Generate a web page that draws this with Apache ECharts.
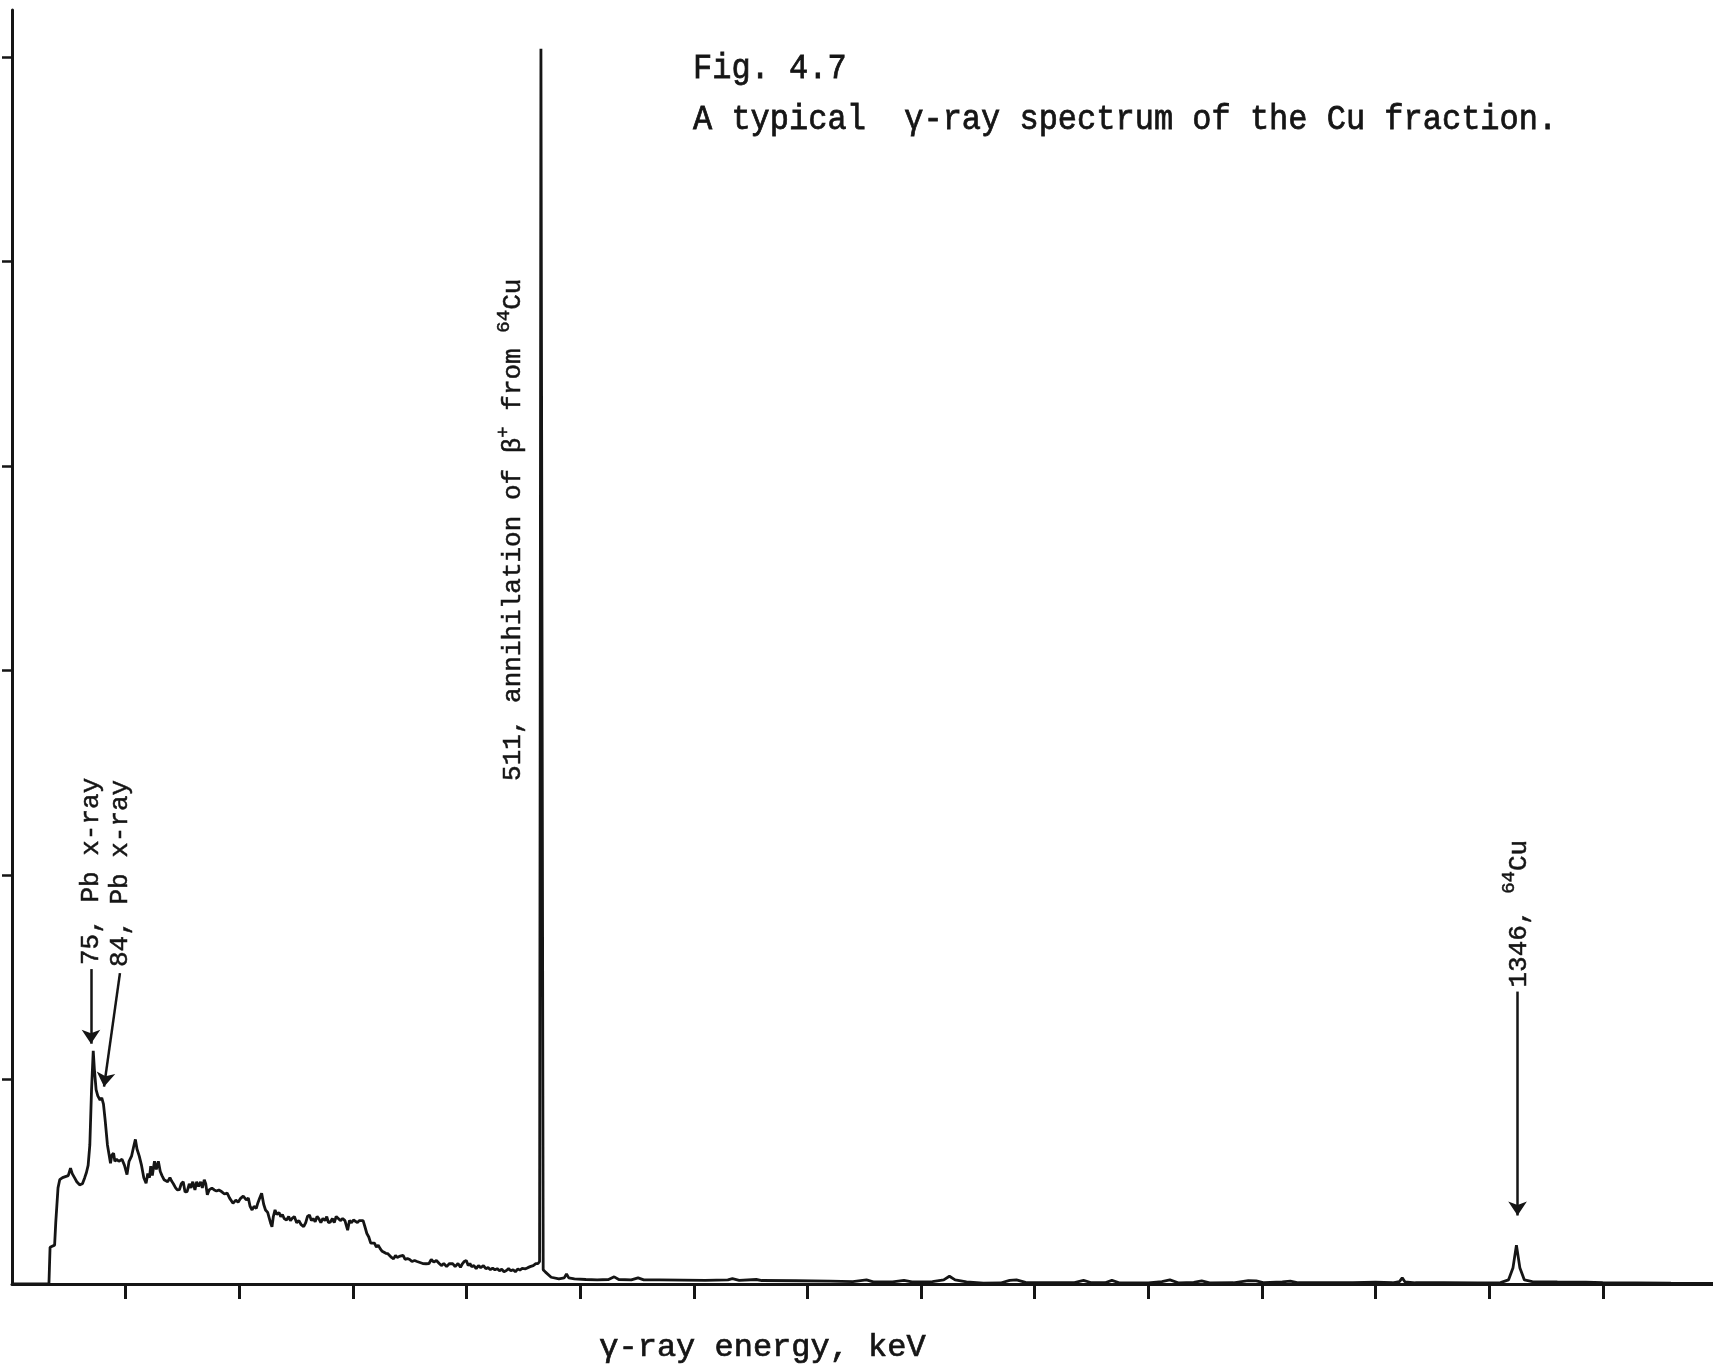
<!DOCTYPE html>
<html>
<head>
<meta charset="utf-8">
<title>Fig. 4.7</title>
<script src="https://cdn.jsdelivr.net/npm/echarts@6/dist/echarts.min.js"></script>
<style>
  html, body { margin: 0; padding: 0; background: #fff; }
  #chart { width: 1713px; height: 1365px; }
</style>
</head>
<body>
<div id="chart"></div>
<script>
// spectrum: [channel, counts in y-tick units]
var comptonRegion = [
  [0, 0], [32.5, 0], [33.5, 0.18], [35, 0.185], [37.5, 0.19], [38.5, 0.3], [40.5, 0.47], [42, 0.51],
  [44.5, 0.52], [47, 0.525], [49.5, 0.53], [51.5, 0.567], [53, 0.54], [55, 0.52], [57, 0.5], [59.5, 0.485],
  [62, 0.49], [64, 0.52], [65.5, 0.545], [67, 0.58], [68.5, 0.68], [70, 0.95], [71.5, 1.14], [72.5, 1.05],
  [74, 0.95], [75.5, 0.92], [77.5, 0.9], [79, 0.91], [80.5, 0.88], [82, 0.8], [84, 0.68], [86.7, 0.59],
  [87.8, 0.63], [89.4, 0.64], [90.5, 0.6], [92, 0.61], [94, 0.6], [96.8, 0.61], [99, 0.58], [101.2, 0.535],
  [103, 0.6], [105.2, 0.625], [107, 0.67], [108.6, 0.707], [110, 0.66], [112, 0.625], [114, 0.58], [116, 0.52],
  [118, 0.493], [119.5, 0.54], [121, 0.52], [122.1, 0.576], [123.5, 0.53], [125.4, 0.6], [127, 0.56], [128.8, 0.6],
  [130.5, 0.55], [132, 0.53], [133.8, 0.51], [135.5, 0.51], [137, 0.5], [139, 0.52], [140.6, 0.502], [142, 0.49],
  [144, 0.47], [145.5, 0.46], [147.3, 0.461], [149, 0.49], [150.7, 0.5], [152.3, 0.45], [154.1, 0.452], [156, 0.49],
  [157.5, 0.47], [159.1, 0.5], [161, 0.46], [162.5, 0.5], [164.2, 0.477], [166, 0.5], [167.5, 0.47], [169.2, 0.51],
  [170.5, 0.49], [171.9, 0.436], [173.5, 0.46], [175.9, 0.469], [178, 0.46], [180, 0.455], [182, 0.46], [184.4, 0.452],
  [187, 0.44], [189.4, 0.444], [191.5, 0.42], [194.5, 0.395], [197, 0.41], [199, 0.4], [201.2, 0.419], [203.5, 0.43],
  [206.2, 0.411], [208, 0.42], [209.5, 0.38], [211.3, 0.362], [213, 0.38], [215, 0.37], [216.3, 0.395], [218, 0.42],
  [219.7, 0.444], [221.5, 0.39], [223.1, 0.362], [225, 0.35], [226.4, 0.354], [227.5, 0.3], [228.8, 0.28], [230, 0.33],
  [231.5, 0.362], [233, 0.34], [235, 0.35], [236.5, 0.329], [238, 0.34], [239.5, 0.32], [241.6, 0.313], [243.5, 0.33],
  [245, 0.31], [246.6, 0.321], [248.5, 0.33], [250.5, 0.3], [252.5, 0.31], [254.5, 0.29], [256.7, 0.28], [258.5, 0.3],
  [260, 0.33], [261.8, 0.337], [263.5, 0.31], [265, 0.32], [266.8, 0.304], [268.5, 0.33], [270, 0.32], [271.8, 0.3],
  [273.6, 0.321], [275.5, 0.31], [277, 0.33], [278.5, 0.3], [280.3, 0.304], [282, 0.32], [283.6, 0.3], [285.3, 0.33],
  [287, 0.329], [289, 0.31], [291, 0.32], [293, 0.31], [295.4, 0.263], [297, 0.31], [298.8, 0.3], [300.5, 0.313],
  [302, 0.32], [304, 0.3], [305.6, 0.31], [307.2, 0.304], [309, 0.31], [310.6, 0.28], [312.3, 0.247], [314, 0.23],
  [315.7, 0.2], [317.3, 0.197], [319, 0.2], [320.7, 0.18], [322.3, 0.19], [324, 0.173], [325.8, 0.16], [327.5, 0.165],
  [329, 0.15], [330.8, 0.148], [332.5, 0.14], [334, 0.13], [335.8, 0.123], [337.5, 0.14], [339, 0.13], [340.8, 0.135],
  [342.5, 0.13], [344.2, 0.14], [346, 0.12], [348, 0.125], [350, 0.12], [352, 0.11], [354.3, 0.115], [356.5, 0.11],
  [359, 0.105], [361.5, 0.1], [364.4, 0.099], [367, 0.1], [369, 0.12], [371.2, 0.107], [373.5, 0.115], [376, 0.1],
  [377.9, 0.09], [380, 0.1], [382.5, 0.085], [385, 0.1], [388, 0.099], [390, 0.085], [392.5, 0.1], [394.7, 0.082],
  [396.5, 0.1], [398, 0.11], [399.8, 0.115], [401.5, 0.09], [403, 0.1], [404.5, 0.085], [406.5, 0.09], [408.5, 0.075],
  [410.5, 0.09], [412.5, 0.08], [414.9, 0.09], [417, 0.075], [419, 0.08], [421, 0.07], [423, 0.078], [425, 0.069],
  [427, 0.075], [429, 0.065], [431, 0.072], [433, 0.06], [435.1, 0.066], [437, 0.075], [439, 0.065], [441, 0.07],
  [443, 0.06], [445.2, 0.074], [447, 0.068], [449, 0.076], [451.9, 0.074], [454, 0.08], [456, 0.085], [458.7, 0.09],
  [461, 0.1], [463, 0.1]
];
var peak511 = [[464.3, 0.11], [465.5, 6.04], [467.5, 0.07], [469.5, 0.058]];
var highRegion = [
  [474.5, 0.033], [481.3, 0.025], [486, 0.03], [488, 0.049], [490, 0.03], [495, 0.025], [505, 0.022], [515, 0.02],
  [525, 0.022], [530, 0.035], [534, 0.022], [545, 0.02], [551, 0.03], [556, 0.02], [570, 0.02], [590, 0.019],
  [610, 0.018], [630, 0.02], [634, 0.026], [640, 0.018], [655, 0.022], [660, 0.017], [690, 0.016], [720, 0.014],
  [740, 0.012], [752, 0.02], [758, 0.01], [775, 0.01], [785, 0.018], [792, 0.01], [810, 0.012], [820, 0.02],
  [825, 0.038], [830, 0.02], [840, 0.01], [855, 0.004], [870, 0.005], [878, 0.018], [884, 0.02], [892, 0.008],
  [915, 0.006], [935, 0.007], [943, 0.018], [950, 0.006], [962, 0.006], [968, 0.018], [975, 0.005], [1000, 0.005],
  [1012, 0.012], [1019, 0.02], [1027, 0.005], [1040, 0.008], [1047, 0.015], [1054, 0.005], [1075, 0.006], [1088, 0.016],
  [1095, 0.015], [1102, 0.006], [1118, 0.01], [1125, 0.014], [1132, 0.006], [1160, 0.007], [1180, 0.006], [1200, 0.009],
  [1215, 0.006], [1221, 0.012], [1223.5, 0.03], [1226, 0.01], [1235, 0.006], [1260, 0.006], [1290, 0.005], [1310, 0.007],
  [1317, 0.02], [1321, 0.08], [1324, 0.19], [1327, 0.08], [1331, 0.02], [1338, 0.012], [1360, 0.01], [1385, 0.009],
  [1400, 0.006], [1430, 0.005], [1460, 0.004], [1497, 0.003]
];

var xTicks = [100, 200, 300, 400, 500, 600, 700, 800, 900, 1000, 1100, 1200, 1300, 1400];
var yTicks = [1, 2, 3, 4, 5, 6];

// peak annotations (rotated text, start point of text) and their arrows
var labelText = ['75, Pb x-ray', '84, Pb x-ray', '511, annihilation of β{sup|+} from {sup|64}Cu', '1346, {sup|64}Cu'];
var labelAt = [[69.5, 1.56], [95, 1.55], [441, 2.46], [1326, 1.45]];
var arrowFrom = [[69.5, 1.54], [95, 1.52], [1325, 1.43]];
var arrowTo = [[69.5, 1.175], [81, 0.965], [1325, 0.335]];

var captionTitle = 'Fig. 4.7';
var captionText = 'A typical  γ-ray spectrum of the Cu fraction.';
var xName = 'γ-ray energy, keV';

var ink = '#151515';
var mono = '"Liberation Mono", "DejaVu Sans Mono", monospace';

var dom = document.getElementById('chart');
var myChart = echarts.init(dom, null, { renderer: 'canvas' });

var captionStyle = { font: '32px ' + mono, fill: ink, stroke: ink, lineWidth: 0.7 };

var option = {
  backgroundColor: '#fff',
  animation: false,
  grid: { left: 12, right: 0, top: 10, bottom: 81, containLabel: false, outerBoundsMode: 'none' },
  graphic: [
    { type: 'text', x: 693, y: 69, scaleY: 1.12, style: Object.assign({ text: captionTitle, verticalAlign: 'middle' }, captionStyle) },
    { type: 'text', x: 693, y: 120, scaleY: 1.12, style: Object.assign({ text: captionText, verticalAlign: 'middle' }, captionStyle) }
  ],
  xAxis: {
    type: 'value',
    min: 0,
    max: 1497,
    name: xName,
    nameLocation: 'middle',
    nameGap: 48,
    nameTextStyle: { fontFamily: mono, fontSize: 32, color: ink, textBorderColor: ink, textBorderWidth: 0.7, padding: [0, 200, 0, 0] },
    axisLine: { show: true, onZero: false, lineStyle: { color: ink, width: 3 } },
    axisTick: { show: true, inside: false, length: 15, customValues: xTicks, lineStyle: { color: ink, width: 3 } },
    axisLabel: { show: false },
    splitLine: { show: false }
  },
  yAxis: {
    type: 'value',
    min: 0,
    max: 6.23,
    axisLine: { show: true, onZero: false, lineStyle: { color: ink, width: 3 } },
    axisTick: { show: true, inside: false, length: 10, customValues: yTicks, lineStyle: { color: ink, width: 2.5 } },
    axisLabel: { show: false },
    splitLine: { show: false }
  },
  series: [
    {
      type: 'line',
      data: comptonRegion.concat(peak511, highRegion),
      showSymbol: false,
      smooth: false,
      lineStyle: { color: ink, width: 2.8 },
      silent: true,
      markPoint: {
        symbol: 'circle',
        symbolSize: 0,
        silent: true,
        label: {
          show: true,
          position: 'inside',
          rotate: 90,
          align: 'left',
          verticalAlign: 'middle',
          color: ink,
          textBorderColor: ink,
          textBorderWidth: 0.5,
          fontFamily: mono,
          fontSize: 26,
          lineHeight: 38,
          rich: {
            sup: { fontFamily: mono, fontSize: 19, lineHeight: 18, verticalAlign: 'top', color: ink, textBorderColor: ink, textBorderWidth: 0.5 }
          }
        },
        data: labelText.map(function (t, i) {
          return { coord: labelAt[i], label: { formatter: t } };
        })
      },
      markLine: {
        silent: true,
        symbol: ['none', 'arrow'],
        symbolSize: 14,
        label: { show: false },
        lineStyle: { color: ink, width: 2.5, type: 'solid' },
        emphasis: { disabled: true },
        data: arrowFrom.map(function (p, i) {
          return [{ coord: p }, { coord: arrowTo[i] }];
        })
      }
    }
  ]
};

if (option && typeof option === 'object') {
  myChart.setOption(option);
}
</script>
</body>
</html>
